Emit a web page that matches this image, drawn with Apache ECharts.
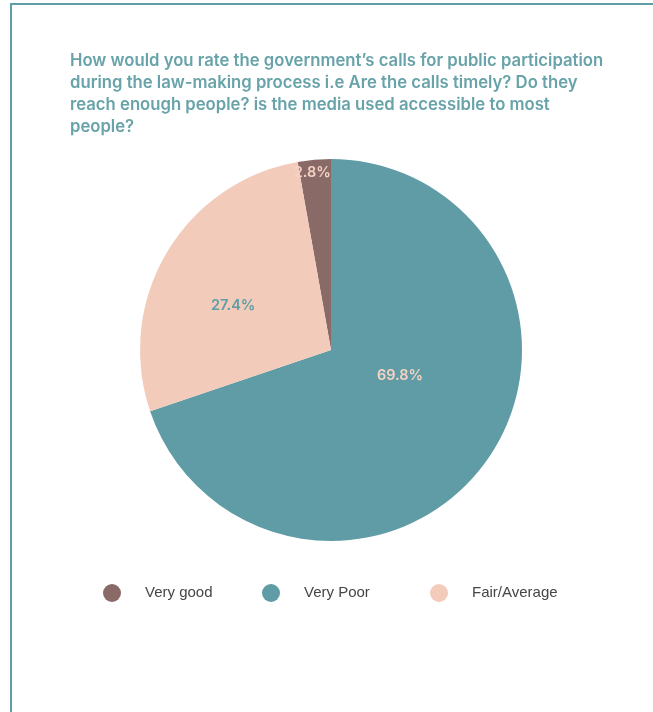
<!DOCTYPE html>
<html>
<head>
<meta charset="utf-8">
<script src="https://cdn.jsdelivr.net/npm/echarts@6/dist/echarts.min.js"></script>
<style>
  html, body { margin: 0; padding: 0; background: #ffffff; }
  #frame {
    position: absolute; left: 10px; top: 3px; width: 700px; height: 760px;
    border-left: 2px solid #5f9ea5; border-top: 2px solid #5f9ea5;
    box-sizing: border-box;
  }
  #chart { position: absolute; left: 0; top: 0; width: 653px; height: 712px; }
</style>
</head>
<body>
<div id="frame"></div>
<div id="chart"></div>
<script>
// Survey responses on the government's calls for public participation
const titleText = "How would you rate the government\u2019s calls for public participation\nduring the law-making process i.e Are the calls timely? Do they\nreach enough people? is the media used accessible to most\npeople?";
const categories = ['Very good', 'Very Poor', 'Fair/Average'];
const values = [2.8, 69.8, 27.4];

// Slice styling
const sliceColors = { 'Very good': '#8a6a67', 'Very Poor': '#5f9ca5', 'Fair/Average': '#f2cbbb' };
const labelColors = { 'Very good': '#f4d2c4', 'Very Poor': '#f4d2c4', 'Fair/Average': '#5f9ca5' };
const labelOffsets = { 'Very good': [-10, -79], 'Very Poor': [-11, -32], 'Fair/Average': [-13, 6] };
// Left edge of each legend entry
const legendLefts = [98, 257, 425];

const total = values.reduce((a, b) => a + b, 0);
// First slice ends exactly at 12 o'clock, the rest run clockwise from there
const startAngle = 90 + values[0] / total * 360;

const legends = categories.map((name, i) => ({
  data: [name],
  left: legendLefts[i],
  top: 579,
  icon: 'circle',
  itemWidth: 18,
  itemHeight: 18,
  selectedMode: false,
  textStyle: {
    fontFamily: 'Liberation Sans',
    fontSize: 15,
    color: '#464646',
    padding: [0, 0, 0, 19]
  }
}));

const chart = echarts.init(document.getElementById('chart'));
chart.setOption({
  animation: false,
  title: {
    text: titleText,
    left: 65,
    top: 45,
    textStyle: {
      fontFamily: 'Inter',
      fontWeight: 600,
      fontSize: 16.7,
      lineHeight: 22,
      color: '#67a3a9'
    }
  },
  legend: legends,
  series: [{
    type: 'pie',
    center: [331, 350],
    radius: 191,
    startAngle: startAngle,
    clockwise: true,
    label: {
      position: 'inside',
      fontFamily: 'Inter',
      fontWeight: 600,
      fontSize: 14.5,
      formatter: p => p.value.toFixed(1) + '%'
    },
    labelLine: { show: false },
    emphasis: { disabled: true },
    data: categories.map((name, i) => ({
      name: name,
      value: values[i],
      itemStyle: { color: sliceColors[name] },
      label: { color: labelColors[name], offset: labelOffsets[name] }
    }))
  }]
});
</script>
</body>
</html>
